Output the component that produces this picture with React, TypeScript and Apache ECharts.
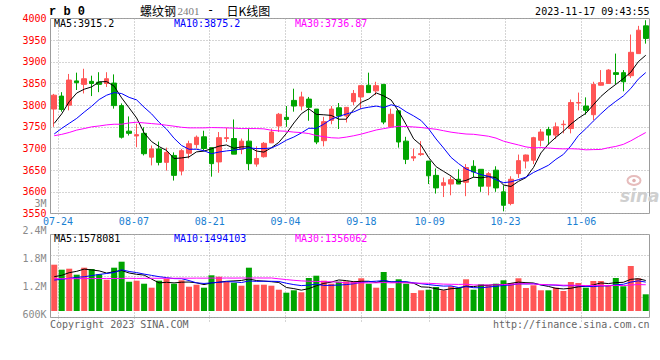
import React, { useEffect, useRef } from 'react';
import * as echarts from 'echarts';

const dates = ['07-21','07-24','07-25','07-26','07-27','07-28','07-31','08-01','08-02','08-03','08-04','08-07','08-08','08-09','08-10','08-11','08-14','08-15','08-16','08-17','08-18','08-21','08-22','08-23','08-24','08-25','08-28','08-29','08-30','08-31','09-01','09-04','09-05','09-06','09-07','09-08','09-11','09-12','09-13','09-14','09-15','09-18','09-19','09-20','09-21','09-22','09-25','09-26','09-27','09-28','10-09','10-10','10-11','10-12','10-13','10-16','10-17','10-18','10-19','10-20','10-23','10-24','10-25','10-26','10-27','10-30','10-31','11-01','11-02','11-03','11-06','11-07','11-08','11-09','11-10','11-13','11-14','11-15','11-16','11-17'];

const tickDates = ['07-24','08-07','08-21','09-04','09-18','10-09','10-23','11-06'];

const opens = [3791,3821,3800,3856,3848,3855,3853,3850,3851,3799,3740,3729,3735,3680,3699,3668,3684,3648,3689,3709,3727,3702,3669,3723,3723,3698,3717,3664,3681,3713,3752,3772,3811,3798,3814,3791,3718,3765,3794,3775,3808,3819,3846,3833,3848,3750,3787,3717,3678,3686,3671,3638,3615,3618,3629,3622,3659,3652,3613,3650,3600,3573,3642,3671,3673,3719,3744,3731,3755,3746,3805,3798,3778,3846,3850,3875,3875,3868,3919,3983];
const closes = [3823,3790,3858,3852,3861,3850,3848,3861,3799,3726,3735,3732,3688,3699,3668,3691,3638,3695,3711,3726,3700,3665,3725,3725,3687,3717,3665,3677,3712,3738,3779,3767,3798,3819,3795,3715,3762,3791,3775,3795,3827,3845,3829,3845,3761,3779,3715,3675,3681,3688,3637,3609,3621,3628,3618,3656,3646,3613,3642,3609,3569,3629,3672,3685,3725,3738,3731,3750,3756,3806,3806,3788,3848,3852,3881,3871,3854,3922,3973,3954];
const lows = [3750,3785,3788,3835,3827,3821,3830,3842,3792,3723,3730,3703,3684,3661,3661,3649,3626,3638,3677,3700,3696,3635,3644,3715,3687,3687,3650,3658,3679,3713,3738,3750,3785,3788,3764,3710,3705,3756,3745,3760,3800,3792,3829,3823,3756,3750,3702,3664,3671,3683,3618,3596,3588,3592,3618,3590,3633,3600,3592,3600,3555,3569,3632,3654,3664,3705,3709,3722,3735,3735,3788,3778,3765,3845,3850,3848,3832,3863,3919,3942];
const highs = [3826,3830,3872,3875,3884,3868,3876,3876,3871,3804,3774,3757,3749,3707,3716,3702,3691,3699,3718,3730,3741,3702,3738,3748,3767,3723,3746,3705,3715,3746,3782,3798,3838,3831,3819,3791,3773,3798,3805,3795,3835,3846,3875,3854,3848,3792,3787,3727,3700,3717,3671,3654,3633,3635,3652,3664,3673,3652,3646,3659,3615,3636,3686,3686,3727,3745,3750,3760,3765,3813,3829,3818,3854,3881,3883,3919,3881,3963,3983,3996];

const ma5 = [3758,3780,3808,3828,3836.8,3842.2,3853.8,3854.4,3843.8,3816.8,3793.8,3770.6,3736,3716,3704.4,3695.6,3676.8,3678.2,3680.6,3692.2,3694,3699.4,3705.4,3708.2,3700.4,3703.8,3703.8,3694.2,3691.6,3701.8,3714.2,3734.6,3758.8,3780.2,3791.6,3778.8,3777.8,3776.4,3767.6,3767.6,3790,3806.6,3814.2,3828.2,3821.4,3811.8,3785.8,3755,3722.2,3707.6,3679.2,3658,3647.2,3636.6,3622.6,3626.4,3633.8,3632.2,3635,3633.2,3615.8,3612.4,3624.2,3632.8,3656,3689.8,3710.2,3725.8,3740,3756.2,3769.8,3781.2,3800.8,3820,3835,3848,3861.2,3876,3900.2,3915.2];
const ma10 = [3733.5,3746.5,3758,3769.5,3784,3797.6,3813,3823,3829,3826.8,3818,3812.2,3795.2,3779.9,3760.6,3744.7,3723.7,3707.1,3698.3,3698.3,3694.8,3688.1,3691.8,3694.4,3696.3,3698.9,3701.6,3699.8,3699.9,3701.1,3709,3719.2,3726.5,3735.9,3746.7,3746.5,3756.2,3767.6,3773.9,3779.6,3784.4,3792.2,3795.3,3797.9,3794.5,3800.9,3796.2,3784.6,3775.2,3764.5,3745.5,3721.9,3701.1,3679.4,3665.1,3652.8,3645.9,3639.7,3635.8,3627.9,3621.1,3623.1,3628.2,3633.9,3644.6,3652.8,3661.3,3675,3686.4,3706.1,3729.8,3745.7,3763.3,3780,3795.6,3808.9,3821.2,3838.4,3860.1,3875.2];
const ma30 = [3729.5,3732.6,3737,3742.5,3746,3750,3752,3754.5,3756,3756,3759,3760.6,3759,3757.5,3756,3753.7,3751.5,3749,3747.6,3747.6,3747.6,3748.3,3748,3747.6,3747,3746,3746,3746,3745.3,3742.1,3740.6,3739.8,3737.8,3736.7,3734.5,3730,3727.2,3724.8,3724,3726.3,3729.4,3733.2,3737.9,3742.7,3745.8,3748.8,3751.3,3750.7,3749.7,3748.4,3746.3,3744.4,3741,3737.7,3735.4,3733.4,3732.8,3730.6,3728.3,3724,3717,3712.4,3708.2,3703.7,3701.4,3702.2,3701.1,3699.8,3699.1,3699.5,3698.8,3696.9,3697.5,3697.8,3701.8,3704.8,3709.5,3717.7,3727.4,3736.87];

const volumes = [2394000,2135000,2187000,1877000,2239000,2171000,1897000,1618000,2239000,2549000,1515000,1567000,1411000,1205000,1567000,1670000,1411000,1587000,1256000,1360000,1205000,1846000,1773000,1499000,1463000,1308000,2239000,1360000,1360000,1308000,1101000,946000,1070000,967000,1706000,1825000,1567000,1411000,1515000,1535000,1535000,1691000,1411000,1205000,2016000,1189000,1639000,1411000,931000,1070000,1101000,1241000,1070000,1277000,1205000,1639000,1101000,1380000,1329000,1411000,1587000,1448000,1691000,1189000,1329000,1070000,1070000,1205000,1034000,1499000,1448000,1205000,1551000,1551000,1329000,1706000,1277000,2327000,1691000,863000];
const volMa5 = [1775000,1844000,1982000,2051000,2166000,2122000,2074000,1960000,2033000,2095000,1964000,1898000,1856000,1649000,1453000,1484000,1453000,1488000,1498000,1457000,1364000,1451000,1488000,1537000,1557000,1578000,1656000,1574000,1546000,1515000,1474000,1215000,1157000,1078000,1158000,1303000,1427000,1495000,1605000,1571000,1513000,1537000,1537000,1475000,1572000,1502000,1492000,1492000,1437000,1248000,1230000,1151000,1083000,1152000,1179000,1286000,1258000,1320000,1331000,1372000,1362000,1431000,1493000,1465000,1449000,1345000,1270000,1173000,1142000,1176000,1251000,1278000,1347000,1451000,1417000,1468000,1483000,1638000,1666000,1578081];
const volMa10 = [1600000,1640000,1690000,1740000,1770000,1830000,1890000,1940000,1990000,2131000,2043000,1986000,1908000,1841000,1774000,1724000,1675000,1672000,1574000,1455000,1424000,1452000,1488000,1517000,1507000,1471000,1554000,1531000,1541000,1536000,1526000,1436000,1365000,1312000,1337000,1388000,1321000,1326000,1342000,1364000,1408000,1482000,1516000,1540000,1571000,1508000,1515000,1515000,1456000,1410000,1366000,1321000,1287000,1295000,1213000,1258000,1205000,1202000,1241000,1275000,1324000,1345000,1407000,1398000,1410000,1354000,1350000,1333000,1303000,1312000,1298000,1274000,1260000,1296000,1296000,1360000,1381000,1493000,1558000,1494103];
const volMa30 = [1672000,1668000,1675000,1671000,1678000,1674000,1680000,1683000,1679000,1686000,1690000,1684000,1688000,1693000,1689000,1695000,1692000,1698000,1694000,1700000,1697000,1703000,1699000,1705000,1701000,1706000,1703000,1708000,1705000,1707000,1664000,1624000,1587000,1557000,1539000,1528000,1517000,1510000,1486000,1452000,1452000,1457000,1457000,1457000,1472000,1456000,1463000,1457000,1446000,1437000,1433000,1413000,1390000,1382000,1374000,1385000,1347000,1347000,1346000,1350000,1366000,1383000,1403000,1411000,1398000,1373000,1357000,1350000,1334000,1332000,1330000,1313000,1318000,1330000,1307000,1324000,1312000,1342000,1368000,1356062];

const priceMin = 3550;
const priceMax = 4000;
const priceStep = 50;
const volLabelMin = 600000;
const volLabelMax = 3000000;
const volLabelStep = 600000;
const volAxisMax = 3955000;

const MONO = '"DejaVu Sans Mono", "Liberation Mono", monospace';
const RED = '#ff5555';
const GREEN = '#00a400';
const GRIDC = '#ababab';
const DOT = [1, 2];

function txt(text: string, x: number, y: number, fill: string, font: string, align = 'left') {
  return {
    type: 'text',
    x,
    y,
    silent: true,
    z: 100,
    style: { text, fill, font, align, textAlign: align, verticalAlign: 'middle', textVerticalAlign: 'middle' },
  };
}

export default function App() {
  const ref = useRef<HTMLDivElement>(null);
  useEffect(() => {
    document.body.style.margin = '0';
    const chart = echarts.init(ref.current!, null, { renderer: 'svg' });
    const candleData = dates.map((_, i) => [opens[i], closes[i], lows[i], highs[i]]);
    const volData = volumes.map((v, i) => ({ value: v, itemStyle: { color: closes[i] >= opens[i] ? RED : GREEN } }));
    const isTick = (i: number) => tickDates.indexOf(dates[i]) >= 0;
    const fmtVol = (v: number) => (v >= 1e6 ? `${Math.round(v / 1e5) / 10}M` : `${Math.round(v / 1e3)}K`);
    const last = (a: number[]) => a[a.length - 1];
    const dotted = { color: GRIDC, type: DOT, width: 1 };
    const line = (data: number[], color: string, xi: number, yi: number) => ({
      type: 'line', xAxisIndex: xi, yAxisIndex: yi, data, symbol: 'none', showSymbol: false,
      lineStyle: { color, width: 1 }, z: 5, silent: true,
    });
    const gridBase = { left: 50.5, width: 599, containLabel: false, outerBoundsMode: 'none' };

    const option: any = {
      animation: false,
      backgroundColor: '#ffffff',
      textStyle: { fontFamily: MONO },
      grid: [
        { ...gridBase, top: 18.5, height: 195, show: true, borderColor: '#9c9c9c', borderWidth: 1, backgroundColor: 'transparent' },
        { ...gridBase, top: 234.5, height: 83, show: true, borderColor: '#9c9c9c', borderWidth: 1, backgroundColor: 'transparent' },
        { ...gridBase, top: 234.5, height: 76.5, show: false },
        { ...gridBase, top: 203, height: 111.6, show: false },
      ],
      xAxis: [
        { gridIndex: 0, type: 'category', data: dates, boundaryGap: true, show: false },
        {
          gridIndex: 0, type: 'category', data: dates, boundaryGap: false, position: 'bottom',
          axisLine: { show: false },
          axisTick: { show: true, interval: isTick, length: 3, lineStyle: dotted },
          axisLabel: { show: true, interval: isTick, color: '#1a80d2', fontFamily: MONO, fontSize: 10, margin: 3, hideOverlap: false },
          splitLine: { show: true, interval: isTick, lineStyle: dotted },
        },
        { gridIndex: 2, type: 'category', data: dates, boundaryGap: true, show: false },
        {
          gridIndex: 1, type: 'category', data: dates, boundaryGap: false,
          axisLine: { show: false },
          axisTick: { show: true, interval: isTick, length: 4, lineStyle: dotted },
          axisLabel: { show: false },
          splitLine: { show: true, interval: isTick, lineStyle: dotted },
        },
        { gridIndex: 3, type: 'category', data: dates, show: false },
      ],
      yAxis: [
        {
          gridIndex: 0, type: 'value', min: priceMin, max: priceMax, interval: priceStep,
          axisLine: { show: false }, axisTick: { show: false },
          axisLabel: { color: '#ff0000', fontFamily: MONO, fontSize: 10, margin: 4, padding: [0, 0, 4, 0], formatter: (v: number) => String(v) },
          splitLine: { show: true, lineStyle: dotted },
        },
        {
          gridIndex: 1, type: 'value', min: 0, max: 4, interval: 1,
          axisLine: { show: false }, axisTick: { show: false }, axisLabel: { show: false },
          splitLine: { show: true, lineStyle: dotted },
        },
        { gridIndex: 2, type: 'value', min: 0, max: volAxisMax, show: false, splitLine: { show: false } },
        {
          gridIndex: 3, type: 'value', min: volLabelMin, max: volLabelMax, interval: volLabelStep,
          axisLine: { show: false }, axisTick: { show: false }, splitLine: { show: false },
          axisLabel: { color: '#8a8a8a', fontFamily: MONO, fontSize: 10, margin: 4, formatter: fmtVol },
        },
      ],
      series: [
        {
          type: 'candlestick', xAxisIndex: 0, yAxisIndex: 0, data: candleData, barWidth: 5, z: 3, silent: true,
          itemStyle: { color: RED, color0: GREEN, borderColor: RED, borderColor0: GREEN, borderWidth: 1 },
        },
        line(ma5, '#000000', 0, 0),
        line(ma10, '#0000ff', 0, 0),
        line(ma30, '#ff00ff', 0, 0),
        { type: 'bar', xAxisIndex: 2, yAxisIndex: 2, data: volData, barWidth: 6, z: 3, silent: true },
        line(volMa5, '#000000', 2, 2),
        line(volMa10, '#0000ff', 2, 2),
        line(volMa30, '#ff00ff', 2, 2),
      ],
      graphic: {
        elements: [
          txt('r b 0', 49, 11.5, '#000', 'bold 12px "Liberation Mono", monospace'),
          txt('螺纹钢', 140, 10, '#000', '12px "Noto Sans CJK SC", sans-serif'),
          txt('2401', 177.5, 10.5, '#7a7a7a', '11px "Liberation Serif", serif'),
          txt('-', 207, 10, '#000', '12px "DejaVu Sans Mono", monospace'),
          txt('日K线图', 226.5, 10, '#000', '12px "Noto Sans CJK SC", sans-serif'),
          txt('2023-11-17 09:43:55', 649.5, 11, '#000', `10px ${MONO}`, 'right'),
          txt(`MA5:${last(ma5)}`, 54, 23.5, '#000000', `10px ${MONO}`),
          txt(`MA10:${last(ma10)}`, 174, 23.5, '#0000ff', `10px ${MONO}`),
          txt(`MA30:${last(ma30)}`, 295, 23.5, '#ff00ff', `10px ${MONO}`),
          txt(`MA5:${last(volMa5)}`, 54, 238, '#000000', `10px ${MONO}`),
          txt(`MA10:${last(volMa10)}`, 174, 238, '#0000ff', `10px ${MONO}`),
          txt(`MA30:${last(volMa30)}`, 295, 238, '#ff00ff', `10px ${MONO}`),
          txt('Copyright 2023 SINA.COM', 50, 324, '#666', `10px ${MONO}`),
          txt('http://finance.sina.com.cn', 649.5, 324, '#666', `10px ${MONO}`, 'right'),
          {
            type: 'ellipse', silent: true, z: 1,
            shape: { cx: 634, cy: 180.5, rx: 6.5, ry: 4.5 },
            style: { fill: 'none', stroke: '#e6bcbc', lineWidth: 2 },
          },
          {
            type: 'circle', silent: true, z: 1,
            shape: { cx: 634, cy: 180.5, r: 1.8 },
            style: { fill: '#e0b0b0' },
          },
          {
            type: 'text', silent: true, z: 1, x: 620, y: 196,
            style: { text: 'sina', fill: '#cfcfcf', font: 'italic bold 17px "DejaVu Sans", sans-serif', verticalAlign: 'middle', textVerticalAlign: 'middle' },
          },
        ],
      },
    };
    chart.setOption(option);
    return () => chart.dispose();
  }, []);
  return <div ref={ref} style={{ position: 'absolute', left: 0, top: 0, width: 660, height: 360, background: '#fff' }} />;
}
